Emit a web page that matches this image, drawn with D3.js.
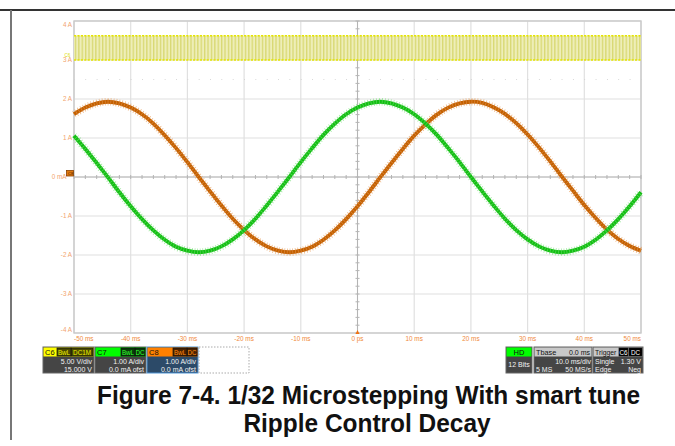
<!DOCTYPE html>
<html><head><meta charset="utf-8">
<script src="https://cdn.jsdelivr.net/npm/d3@7"></script>
<style>
body { margin: 0; background: #fff; }
svg { display: block; font-family: Arial, "Liberation Sans", sans-serif; }
</style></head><body>
<svg width="675" height="446"></svg>
<script>
// samples every 2 ms
const timeMs = d3.range(-50, 52, 2);
const c7Amps = [1.06, 0.72, 0.36, -0.01, -0.39, -0.75, -1.08, -1.37, -1.61, -1.79, -1.89, -1.93, -1.89,
    -1.78, -1.60, -1.36, -1.07, -0.73, -0.37, 0.00, 0.38, 0.74, 1.08, 1.37, 1.61, 1.78, 1.89, 1.93, 1.89,
    1.78, 1.61, 1.37, 1.08, 0.74, 0.38, 0.00, -0.37, -0.73, -1.07, -1.36, -1.60, -1.78, -1.89, -1.93, -1.89,
    -1.79, -1.61, -1.37, -1.08, -0.75, -0.39];
const c8Amps = [1.61, 1.78, 1.89, 1.93, 1.89, 1.78, 1.61, 1.37, 1.07, 0.74, 0.38, 0.00, -0.37, -0.73, -1.07,
    -1.36, -1.60, -1.78, -1.89, -1.93, -1.89, -1.79, -1.61, -1.37, -1.08, -0.75, -0.39, -0.01, 0.36, 0.72,
    1.06, 1.35, 1.60, 1.78, 1.89, 1.93, 1.90, 1.79, 1.62, 1.38, 1.09, 0.76, 0.40, 0.02, -0.35, -0.72, -1.05,
    -1.35, -1.59, -1.77, -1.89];
const c6Levels = [3.0, 3.62];   // PWM trace low / high, on the A grid
const yTicks = [-4, -3, -2, -1, 0, 1, 2, 3, 4];
const yTickLabels = ['-4 A', '-3 A', '-2 A', '-1 A', '0 mA', '1 A', '2 A', '3 A', '4 A'];
const xTicks = [-50, -40, -30, -20, -10, 0, 10, 20, 30, 40, 50];
const xTickLabels = ['-50 ms', '-40 ms', '-30 ms', '-20 ms', '-10 ms', '0 ps', '10 ms', '20 ms', '30 ms', '40 ms', '50 ms'];

const L = 74, R = 641, T = 21, B = 333;
const GRID = '#e0e0e0', AXIS = '#b4b4b4';
const ORANGE = '#c46000', ORANGE_LT = '#e8a262', GREEN = '#12bf12', GREEN_LT = '#86e286';

const svg = d3.select('svg');
const x = d3.scaleLinear().domain([-50, 50]).range([L, R]);
const y = d3.scaleLinear().domain([-4, 4]).range([B, T]);

// page frame
svg.append('line').attr('x1', 0).attr('y1', 10).attr('x2', 675).attr('y2', 10)
    .attr('stroke', '#333').attr('stroke-width', 2);
svg.append('line').attr('x1', 11).attr('y1', 10).attr('x2', 11).attr('y2', 440)
    .attr('stroke', '#777').attr('stroke-width', 2);

// grid
xTicks.forEach(function (t) {
    svg.append('line').attr('x1', x(t)).attr('x2', x(t)).attr('y1', T).attr('y2', B)
        .attr('stroke', GRID).attr('stroke-width', 1.2);
});
yTicks.forEach(function (v) {
    svg.append('line').attr('x1', L).attr('x2', R).attr('y1', y(v)).attr('y2', y(v))
        .attr('stroke', GRID).attr('stroke-width', 1.2);
});
svg.append('rect').attr('x', L).attr('y', T).attr('width', R - L).attr('height', B - T)
    .attr('fill', 'none').attr('stroke', '#cacaca').attr('stroke-width', 1.4);

// centre axes with minor ticks
svg.append('line').attr('x1', L).attr('x2', R).attr('y1', y(0)).attr('y2', y(0)).attr('stroke', AXIS);
svg.append('line').attr('x1', x(0)).attr('x2', x(0)).attr('y1', T).attr('y2', B).attr('stroke', AXIS);
d3.range(-50, 50.01, 2).forEach(function (t) {
    svg.append('line').attr('x1', x(t)).attr('x2', x(t)).attr('y1', y(0) - 2).attr('y2', y(0) + 2)
        .attr('stroke', AXIS);
    svg.append('line').attr('x1', x(t)).attr('x2', x(t) + 0.8).attr('y1', y(2.5)).attr('y2', y(2.5))
        .attr('stroke', '#d0d0d0').attr('stroke-width', 1.2);
});
d3.range(-4, 4.01, 0.2).forEach(function (v) {
    svg.append('line').attr('x1', x(0) - 2).attr('x2', x(0) + 2).attr('y1', y(v)).attr('y2', y(v))
        .attr('stroke', AXIS);
});

// tick labels
yTicks.forEach(function (v, i) {
    let lx = v === 0 ? L - 7.5 : L - 2;   // the ground marker sits over the 0 label
    svg.append('text').attr('x', lx).attr('y', Math.min(Math.max(y(v), T + 4), B - 3) + 2.2)
        .attr('text-anchor', 'end').attr('font-size', 6.3).attr('fill', '#f2a36e').text(yTickLabels[i]);
});
xTicks.forEach(function (t, i) {
    let anchor = i === 0 ? 'start' : (i === xTicks.length - 1 ? 'end' : 'middle');
    svg.append('text').attr('x', x(t)).attr('y', B + 7.5).attr('text-anchor', anchor)
        .attr('font-size', 6.4).attr('fill', '#f08a3c').text(xTickLabels[i]);
});

// C6 PWM band
const defs = svg.append('defs');
const pat = defs.append('pattern').attr('id', 'pwm').attr('patternUnits', 'userSpaceOnUse')
    .attr('width', 3.4).attr('height', 10);
pat.append('rect').attr('width', 3.4).attr('height', 10).attr('fill', '#eeeeb8');
pat.append('rect').attr('width', 1.3).attr('height', 10).attr('fill', '#d8d872');
svg.append('rect').attr('x', L).attr('y', y(c6Levels[1])).attr('width', R - L)
    .attr('height', y(c6Levels[0]) - y(c6Levels[1])).attr('fill', 'url(#pwm)');
c6Levels.forEach(function (v) {
    svg.append('line').attr('x1', L).attr('x2', R).attr('y1', y(v)).attr('y2', y(v))
        .attr('stroke', '#e4e400').attr('stroke-width', 1.6).attr('stroke-dasharray', '2.2 1.2');
});
svg.append('text').attr('x', 64.5).attr('y', y(3) - 3.5).attr('font-size', 4.5).attr('fill', '#dcdc00').text('C6');

// current traces
function trace(values, core, light) {
    const gen = d3.line().x((d, i) => x(timeMs[i])).y(d => y(d)).curve(d3.curveCatmullRom);
    svg.append('path').attr('d', gen(values)).attr('fill', 'none').attr('stroke', light)
        .attr('stroke-width', 7.5).attr('stroke-dasharray', '0.8 2.0').attr('opacity', 0.75);
    svg.append('path').attr('d', gen(values)).attr('fill', 'none').attr('stroke', core)
        .attr('stroke-width', 3.8);
    svg.append('path').attr('d', gen(values)).attr('fill', 'none').attr('stroke', light)
        .attr('stroke-width', 3.8).attr('stroke-dasharray', '0.7 2.1').attr('opacity', 0.6);
}
trace(c8Amps, ORANGE, ORANGE_LT);
trace(c7Amps, GREEN, GREEN_LT);

// channel ground marker and trigger marker
svg.append('rect').attr('x', 66.5).attr('y', y(0) - 6.5).attr('width', 7).attr('height', 5.5)
    .attr('fill', '#e07a10').attr('stroke', '#8a4000').attr('stroke-width', 0.8);
svg.append('text').attr('x', 68).attr('y', y(0) - 2.5).attr('font-size', 4).attr('fill', '#4a2000').text('C8');
svg.append('path').attr('d', `M${x(0) - 2},${B + 1} L${x(0) + 2},${B + 1} L${x(0)},${B - 3}Z`)
    .attr('fill', '#f07010');

// info boxes under the grid
const BY = 347, HH = 9, BH = 17;
function box(x0, w, headFill, bodyFill, border) {
    svg.append('rect').attr('x', x0).attr('y', BY).attr('width', w).attr('height', HH + BH)
        .attr('fill', bodyFill).attr('stroke', border).attr('stroke-width', 1);
    svg.append('rect').attr('x', x0 + 0.5).attr('y', BY + 0.5).attr('width', w - 1).attr('height', HH)
        .attr('fill', headFill);
}
function txt(tx, ty, s, anchor, color, size) {
    svg.append('text').attr('x', tx).attr('y', ty).attr('text-anchor', anchor || 'start')
        .attr('font-size', size || 7).attr('fill', color || '#f2f2f2').text(s);
}
function tag(x0, w, s, fill, color) {
    svg.append('rect').attr('x', x0).attr('y', BY + 1).attr('width', w).attr('height', HH - 1)
        .attr('fill', fill).attr('stroke', '#111').attr('stroke-width', 0.7);
    txt(x0 + w / 2, BY + 7.5, s, 'middle', color, 6.3);
}

const channels = [
    {x: 43, name: 'C6', head: '#ffff00', tagFill: '#4a4a00', tagText: '#f0f000', tags: [['BwL', 14], ['DC1M', 22]],
        body: '#454545', border: '#666', rows: ['5.00 V/div', '15.000 V']},
    {x: 95, name: 'C7', head: '#00ff00', tagFill: '#0a3a0a', tagText: '#30ff30', tags: [['BwL', 14], ['DC', 10]],
        body: '#454545', border: '#666', rows: ['1.00 A/div', '0.0 mA ofst']},
    {x: 147, name: 'C8', head: '#ff8000', tagFill: '#4a2200', tagText: '#ff8a10', tags: [['BwL', 14], ['DC', 10]],
        body: '#2c4a68', border: '#4f95d6', rows: ['1.00 A/div', '0.0 mA ofst']}
];
channels.forEach(function (c) {
    const w = 51;
    box(c.x, w, c.head, c.body, c.border);
    txt(c.x + 2, BY + 7.5, c.name, 'start', '#111', 7.5);
    let tx = c.x + w - 1;
    c.tags.slice().reverse().forEach(function (t) {
        tx -= t[1];
        tag(tx, t[1], t[0], c.tagFill, c.tagText);
    });
    txt(c.x + w - 2, BY + HH + 7.5, c.rows[0], 'end');
    txt(c.x + w - 2, BY + HH + 15.5, c.rows[1], 'end');
});
svg.append('rect').attr('x', 199).attr('y', BY).attr('width', 50).attr('height', HH + BH)
    .attr('fill', 'none').attr('stroke', '#aaa').attr('stroke-dasharray', '1.5 1.5');

// HD / timebase / trigger
box(506, 26, '#00ff00', '#454545', '#666');
txt(519, BY + 7.5, 'HD', 'middle', '#111', 7.5);
txt(519, BY + HH + 11, '12 Bits', 'middle');

box(534, 58, '#c8c8c8', '#454545', '#666');
txt(536, BY + 7.5, 'Tbase', 'start', '#111', 7.3);
txt(590, BY + 7.5, '0.0 ms', 'end', '#111', 7);
txt(591, BY + HH + 7.5, '10.0 ms/div', 'end');
txt(536, BY + HH + 15.5, '5 MS', 'start');
txt(591, BY + HH + 15.5, '50 MS/s', 'end');

box(593, 50, '#c8c8c8', '#454545', '#666');
txt(595, BY + 7.5, 'Trigger', 'start', '#111', 6.8);
tag(619, 9, 'C6', '#000', '#fff');
tag(629, 13, 'DC', '#000', '#fff');
txt(595, BY + HH + 7.5, 'Single');
txt(641, BY + HH + 7.5, '1.30 V', 'end');
txt(595, BY + HH + 15.5, 'Edge');
txt(641, BY + HH + 15.5, 'Neg', 'end');

// caption: bold, both lines squeezed by the same factor so line 1 spans the grid width
const CAP_FS = 25, CAP_W1 = 543;
let squeeze = 1;
[['Figure 7-4. 1/32 Microstepping With smart tune', 368.5, 404],
 ['Ripple Control Decay', 367, 432]].forEach(function (c, i) {
    const t = svg.append('text').attr('x', c[1]).attr('y', c[2]).attr('text-anchor', 'middle')
        .attr('font-size', CAP_FS).attr('font-weight', 'bold').attr('fill', '#111').text(c[0]);
    const w = t.node().getComputedTextLength();
    if (i === 0) squeeze = CAP_W1 / w;
    t.attr('textLength', w * squeeze).attr('lengthAdjust', 'spacingAndGlyphs');
});
</script>
</body></html>
